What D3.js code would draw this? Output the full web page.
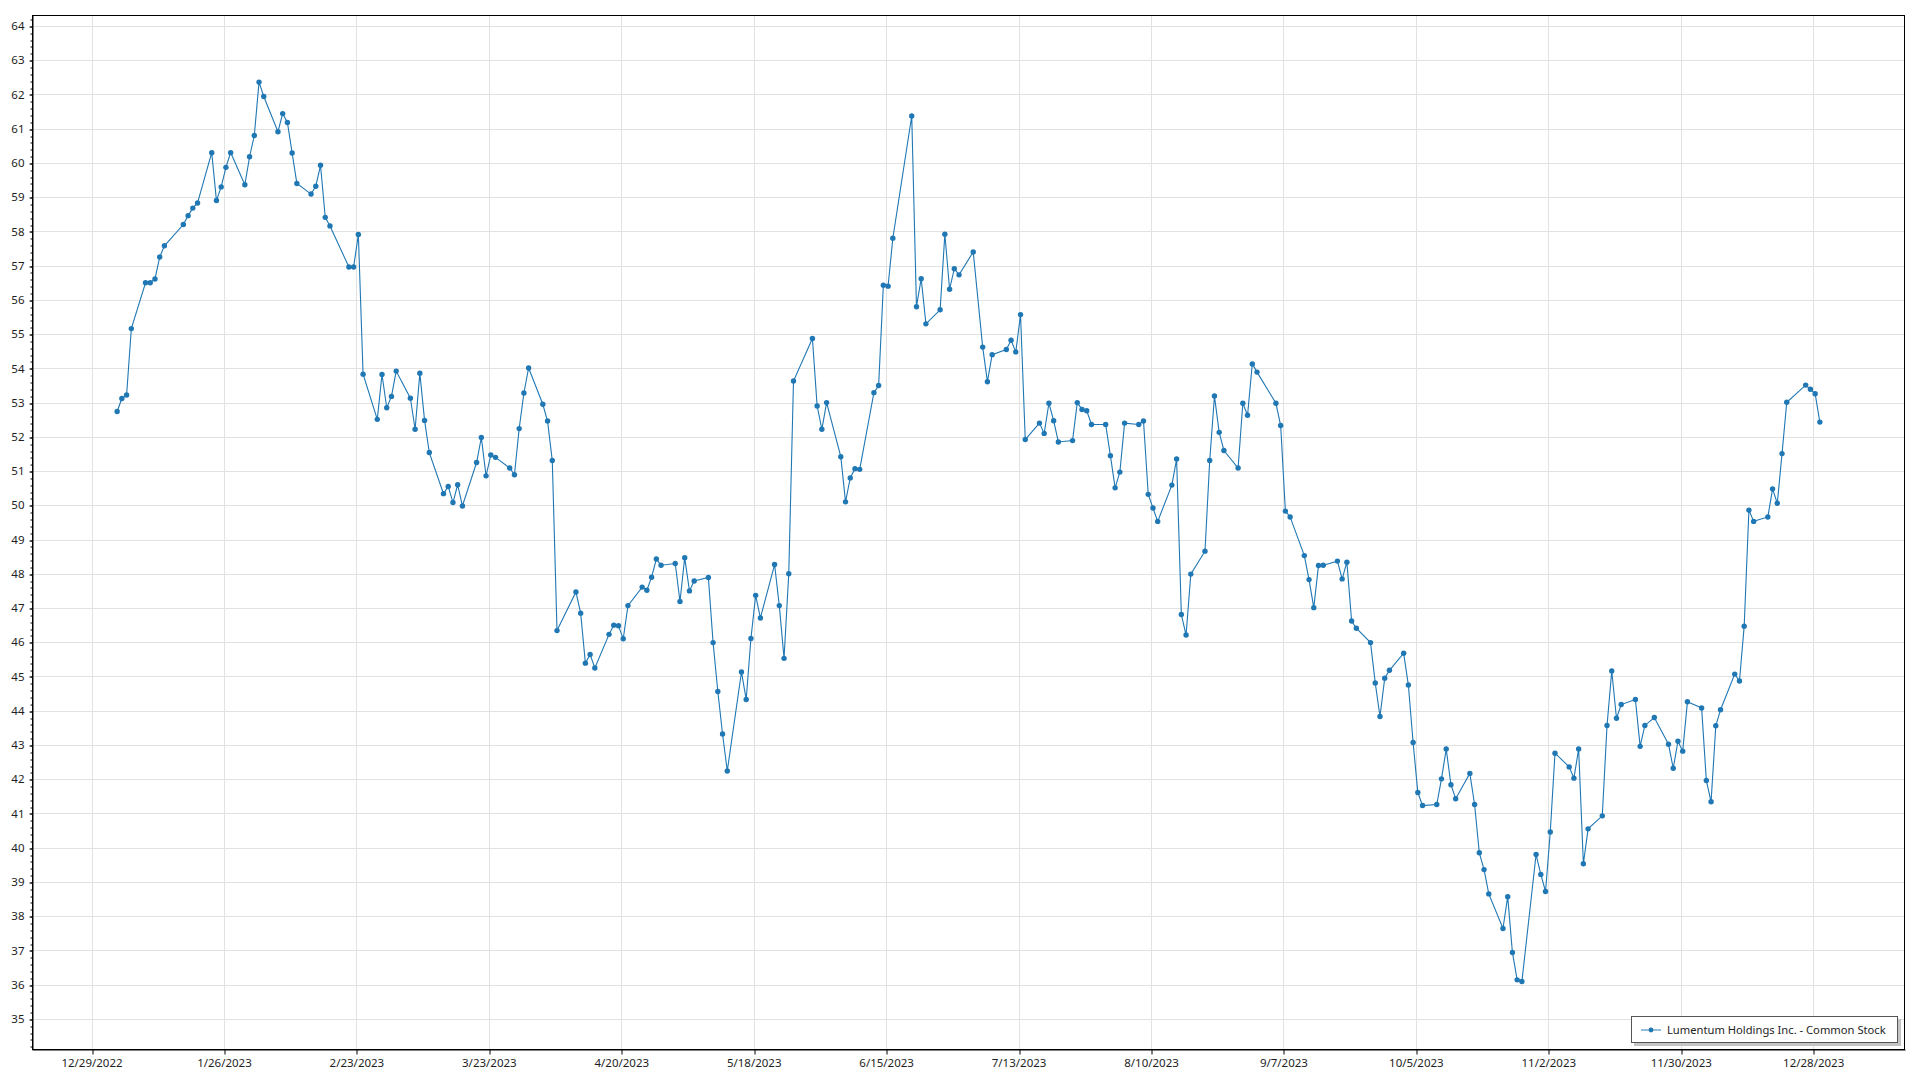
<!DOCTYPE html>
<html><head><meta charset="utf-8">
<script src="https://cdn.jsdelivr.net/npm/d3@7"></script>
<style>
body{margin:0;background:#fff}
svg{display:block}
text{font-family:"Noto Sans","Open Sans",sans-serif}
</style>
</head><body>
<svg id="chart" width="1920" height="1080"></svg>
<script>
// ---- data ----
const seriesName = "Lumentum Holdings Inc. - Common Stock";

const tradeDates = [
"2023-01-03","2023-01-04","2023-01-05","2023-01-06","2023-01-09","2023-01-10","2023-01-11","2023-01-12","2023-01-13","2023-01-17","2023-01-18","2023-01-19","2023-01-20","2023-01-23","2023-01-24","2023-01-25","2023-01-26","2023-01-27","2023-01-30","2023-01-31",
"2023-02-01","2023-02-02","2023-02-03","2023-02-06","2023-02-07","2023-02-08","2023-02-09","2023-02-10","2023-02-13","2023-02-14","2023-02-15","2023-02-16","2023-02-17","2023-02-21","2023-02-22","2023-02-23","2023-02-24","2023-02-27","2023-02-28",
"2023-03-01","2023-03-02","2023-03-03","2023-03-06","2023-03-07","2023-03-08","2023-03-09","2023-03-10","2023-03-13","2023-03-14","2023-03-15","2023-03-16","2023-03-17","2023-03-20","2023-03-21","2023-03-22","2023-03-23","2023-03-24","2023-03-27","2023-03-28","2023-03-29","2023-03-30","2023-03-31",
"2023-04-03","2023-04-04","2023-04-05","2023-04-06","2023-04-10","2023-04-11","2023-04-12","2023-04-13","2023-04-14","2023-04-17","2023-04-18","2023-04-19","2023-04-20","2023-04-21","2023-04-24","2023-04-25","2023-04-26","2023-04-27","2023-04-28",
"2023-05-01","2023-05-02","2023-05-03","2023-05-04","2023-05-05","2023-05-08","2023-05-09","2023-05-10","2023-05-11","2023-05-12","2023-05-15","2023-05-16","2023-05-17","2023-05-18","2023-05-19","2023-05-22","2023-05-23","2023-05-24","2023-05-25","2023-05-26","2023-05-30","2023-05-31",
"2023-06-01","2023-06-02","2023-06-05","2023-06-06","2023-06-07","2023-06-08","2023-06-09","2023-06-12","2023-06-13","2023-06-14","2023-06-15","2023-06-16","2023-06-20","2023-06-21","2023-06-22","2023-06-23","2023-06-26","2023-06-27","2023-06-28","2023-06-29","2023-06-30",
"2023-07-03","2023-07-05","2023-07-06","2023-07-07","2023-07-10","2023-07-11","2023-07-12","2023-07-13","2023-07-14","2023-07-17","2023-07-18","2023-07-19","2023-07-20","2023-07-21","2023-07-24","2023-07-25","2023-07-26","2023-07-27","2023-07-28","2023-07-31",
"2023-08-01","2023-08-02","2023-08-03","2023-08-04","2023-08-07","2023-08-08","2023-08-09","2023-08-10","2023-08-11","2023-08-14","2023-08-15","2023-08-16","2023-08-17","2023-08-18","2023-08-21","2023-08-22","2023-08-23","2023-08-24","2023-08-25","2023-08-28","2023-08-29","2023-08-30","2023-08-31",
"2023-09-01","2023-09-05","2023-09-06","2023-09-07","2023-09-08","2023-09-11","2023-09-12","2023-09-13","2023-09-14","2023-09-15","2023-09-18","2023-09-19","2023-09-20","2023-09-21","2023-09-22","2023-09-25","2023-09-26","2023-09-27","2023-09-28","2023-09-29",
"2023-10-02","2023-10-03","2023-10-04","2023-10-05","2023-10-06","2023-10-09","2023-10-10","2023-10-11","2023-10-12","2023-10-13","2023-10-16","2023-10-17","2023-10-18","2023-10-19","2023-10-20","2023-10-23","2023-10-24","2023-10-25","2023-10-26","2023-10-27","2023-10-30","2023-10-31",
"2023-11-01","2023-11-02","2023-11-03","2023-11-06","2023-11-07","2023-11-08","2023-11-09","2023-11-10","2023-11-13","2023-11-14","2023-11-15","2023-11-16","2023-11-17","2023-11-20","2023-11-21","2023-11-22","2023-11-24","2023-11-27","2023-11-28","2023-11-29","2023-11-30",
"2023-12-01","2023-12-04","2023-12-05","2023-12-06","2023-12-07","2023-12-08","2023-12-11","2023-12-12","2023-12-13","2023-12-14","2023-12-15","2023-12-18","2023-12-19","2023-12-20","2023-12-21","2023-12-22","2023-12-26","2023-12-27","2023-12-28","2023-12-29"
];

const closePrices = [
52.74,53.12,53.22,55.16,56.50,56.50,56.61,57.25,57.58,58.20,58.46,58.68,58.83,60.30,58.90,59.30,59.87,60.30,59.36,60.18,
60.80,62.36,61.94,60.91,61.44,61.18,60.29,59.40,59.09,59.32,59.93,58.41,58.16,56.96,56.96,57.91,53.83,52.51,53.82,
52.85,53.18,53.92,53.13,52.22,53.86,52.48,51.54,50.34,50.55,50.08,50.60,49.98,51.25,51.98,50.86,51.47,51.40,51.09,50.89,52.24,53.28,54.01,
52.95,52.46,51.31,46.34,47.47,46.85,45.39,45.64,45.25,46.23,46.50,46.48,46.10,47.07,47.61,47.52,47.90,48.43,48.25,
48.30,47.19,48.47,47.50,47.79,47.89,45.99,44.56,43.32,42.24,45.13,44.33,46.11,47.37,46.71,48.27,47.07,45.53,48.00,53.63,54.87,52.90,
52.22,53.00,51.42,50.10,50.80,51.07,51.05,53.29,53.50,56.43,56.40,57.80,61.37,55.80,56.62,55.30,55.71,57.92,56.31,56.91,56.73,
57.40,54.62,53.61,54.40,54.55,54.82,54.48,55.57,51.92,52.40,52.10,52.98,52.47,51.85,51.89,53.00,52.80,52.76,52.36,52.36,
51.45,50.51,50.97,52.40,52.36,52.46,50.32,49.92,49.53,50.59,51.35,46.81,46.21,47.99,48.66,51.31,53.19,52.13,51.60,51.09,52.98,52.63,54.13,
53.89,52.98,52.33,49.83,49.66,48.53,47.83,47.01,48.24,48.25,48.37,47.85,48.34,46.62,46.41,45.99,44.81,43.83,44.95,45.18,
45.68,44.75,43.07,41.61,41.23,41.26,42.01,42.88,41.84,41.43,42.17,41.26,39.85,39.36,38.65,37.64,38.57,36.94,36.14,36.09,39.80,39.22,
38.72,40.46,42.76,42.36,42.03,42.88,39.53,40.55,40.93,43.57,45.16,43.78,44.18,44.33,42.96,43.57,43.80,43.02,42.32,43.11,42.82,
44.26,44.08,41.96,41.34,43.56,44.03,45.07,44.87,46.47,49.86,49.53,49.66,50.48,50.06,51.51,53.01,53.51,53.39,53.26,52.43
];

const xTickDates = ["2022-12-29","2023-01-26","2023-02-23","2023-03-23","2023-04-20","2023-05-18","2023-06-15",
  "2023-07-13","2023-08-10","2023-09-07","2023-10-05","2023-11-02","2023-11-30","2023-12-28"];
const yTickValues = d3.range(35, 65, 1);
const yMinorValues = d3.range(34.2, 64.3, 0.2).map(v => +v.toFixed(1));
const yDomain = [34.12, 64.32];

// ---- layout ----
const svg = d3.select("#chart");
const L = 32, T = 15, R = 1905, B = 1049;
const parse = d3.utcParse("%Y-%m-%d");
const points = tradeDates.map((d, i) => ({date: d3.utcHour.offset(parse(d), 10), value: closePrices[i]}));

const ext = d3.extent(points, d => d.date);
const pad = (ext[1] - ext[0]) * 0.05;
const x = d3.scaleUtc().domain([new Date(+ext[0] - pad), new Date(+ext[1] + pad)]).range([L, R]);
const y = d3.scaleLinear().domain(yDomain).range([B, T]);

const crisp = v => Math.round(v) + 0.5;
const xTicks = xTickDates.map(parse);
const fmt = d3.utcFormat("%-m/%-d/%Y");

// grid
const grid = svg.append("g");
grid.selectAll(".gx").data(xTicks).join("line")
  .attr("x1", d => crisp(x(d))).attr("x2", d => crisp(x(d)))
  .attr("y1", T).attr("y2", B)
  .attr("stroke", "#e2e2e2").attr("stroke-width", 1);
grid.selectAll(".gy").data(yTickValues).join("line")
  .attr("x1", L).attr("x2", R)
  .attr("y1", d => crisp(y(d))).attr("y2", d => crisp(y(d)))
  .attr("stroke", "#e2e2e2").attr("stroke-width", 1);

// frame
svg.append("rect").attr("x", L + 0.5).attr("y", T + 0.5)
  .attr("width", R - L - 1).attr("height", B - T)
  .attr("fill", "none").attr("stroke", "#000").attr("stroke-width", 1);

// y axis
const yAxis = svg.append("g").attr("transform", `translate(${L + 0.5},0)`)
  .call(d3.axisLeft(y).tickValues(yTickValues).tickSize(3).tickPadding(5).tickSizeOuter(0).tickFormat(d3.format("d")));
const yMinor = svg.append("g").attr("transform", `translate(${L + 0.5},0)`)
  .call(d3.axisLeft(y).tickValues(yMinorValues).tickSize(2).tickSizeOuter(0).tickFormat(""));
yMinor.select(".domain").remove();

// x axis
const xAxis = svg.append("g").attr("transform", `translate(0,${B + 0.5})`)
  .call(d3.axisBottom(x).tickValues(xTicks).tickSize(5).tickPadding(4).tickSizeOuter(0).tickFormat(fmt));

[yAxis, xAxis, yMinor].forEach(g => {
  g.selectAll(".domain").attr("stroke", "#000");
  g.selectAll(".tick line").attr("stroke", "#000");
  g.selectAll(".tick text").attr("fill", "#1e1e1e").style("font-size", "11.5px").style("font-family", '"Noto Sans", sans-serif');
});
yAxis.selectAll(".tick line").attr("transform", d => `translate(0,${crisp(y(d)) - y(d)})`);
yMinor.selectAll(".tick line").attr("transform", d => `translate(0,${crisp(y(d)) - y(d)})`);
xAxis.selectAll(".tick line").attr("transform", d => `translate(${crisp(x(d)) - x(d)},0)`);

// series
const color = "#1f77b4";
const line = d3.line().x(d => x(d.date)).y(d => y(d.value));
svg.append("path").datum(points)
  .attr("d", line).attr("fill", "none").attr("stroke", color).attr("stroke-width", 1.1);
svg.append("g").selectAll("circle").data(points).join("circle")
  .attr("cx", d => x(d.date)).attr("cy", d => y(d.value)).attr("r", 2.7)
  .attr("fill", color);

// legend
const lg = svg.append("g").attr("transform", "translate(1631,1016)");
lg.append("rect").attr("x", 3).attr("y", 3).attr("width", 267).attr("height", 27).attr("fill", "#c4c4c4");
lg.append("rect").attr("x", 0.5).attr("y", 0.5).attr("width", 266).attr("height", 26)
  .attr("fill", "#fff").attr("stroke", "#555").attr("stroke-width", 1);
lg.append("line").attr("x1", 10).attr("x2", 30).attr("y1", 14).attr("y2", 14)
  .attr("stroke", color).attr("stroke-width", 1.2).attr("stroke-opacity", 0.8);
lg.append("circle").attr("cx", 20).attr("cy", 14).attr("r", 2.4).attr("fill", color);
lg.append("text").attr("x", 36).attr("y", 18).text(seriesName)
  .attr("fill", "#1e1e1e").style("font-size", "11.2px");
</script>
</body></html>
